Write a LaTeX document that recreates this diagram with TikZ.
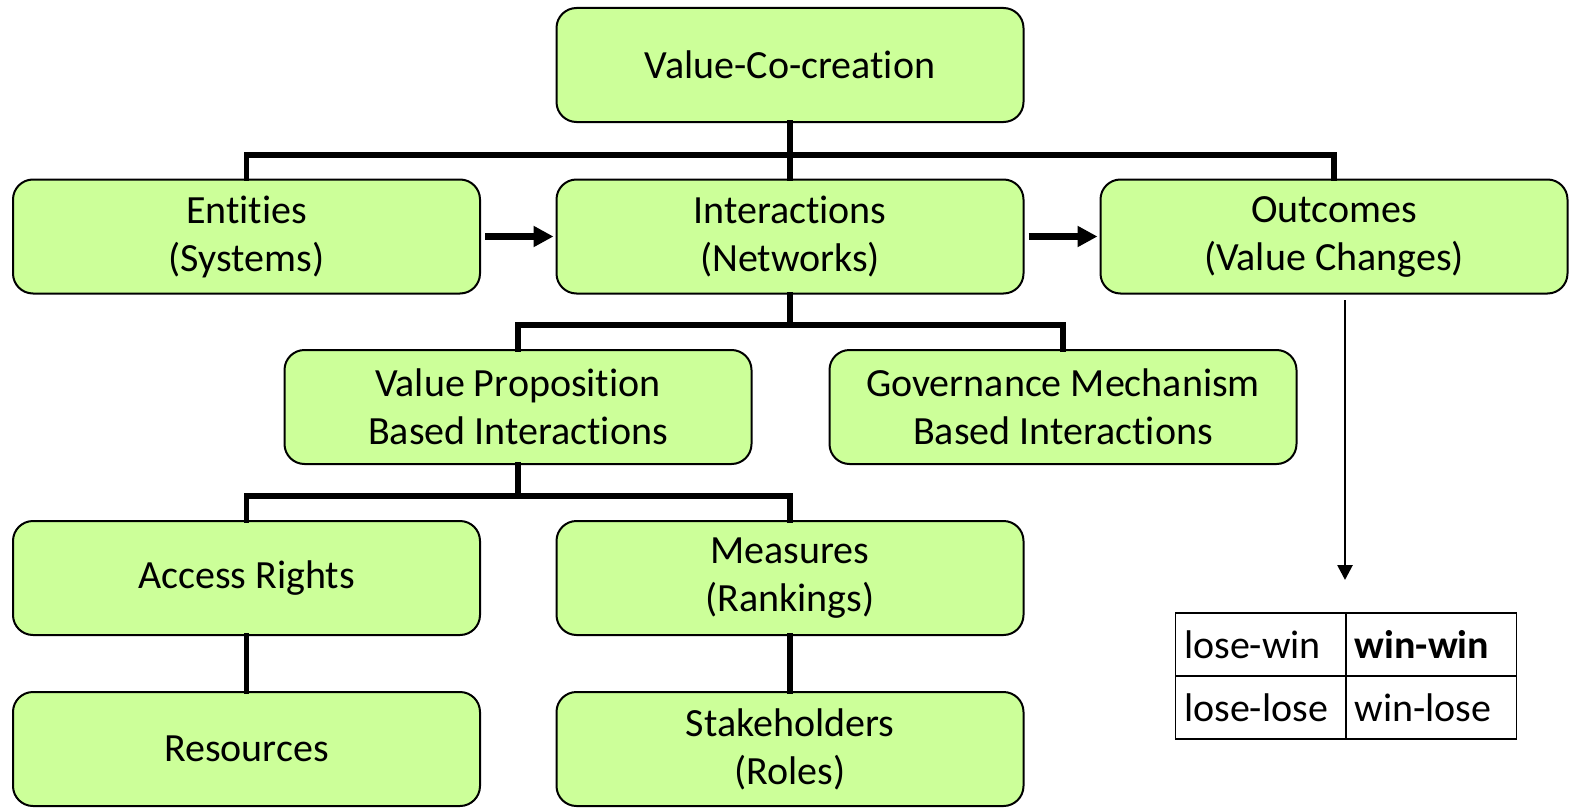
\documentclass[tikz,border=0pt]{standalone}
\usepackage{fontspec}
\setmainfont{Carlito}[RawFeature={-liga;-clig;-calt;-dlig;-hlig;-rlig}]
\usetikzlibrary{arrows.meta}
\definecolor{boxgreen}{HTML}{CCFF99}
\tikzset{
  gbox/.style={draw=black, line width=2pt, fill=boxgreen, rounded corners=20pt,
    minimum width=467pt, minimum height=114pt, inner sep=0pt, align=center,
    font=\fontsize{40}{48}\selectfont},
  tree/.style={line width=5.5pt, line cap=rect},
  fatarrow/.style={line width=6.5pt, -{Triangle[length=20pt,width=20pt]}},
  thinarrow/.style={line width=2.7pt, -{Triangle[length=15pt,width=15pt]}},
  cell/.style={draw=black, line width=1.8pt, minimum width=170.5pt, minimum height=63pt,
    inner sep=0pt, text width=153pt, align=left, font=\fontsize{40}{48}\selectfont}
}
\begin{document}
\begin{tikzpicture}[x=1pt,y=-1pt]
\useasboundingbox (0,0) rectangle (1572,808);
\node[gbox] (top) at (790,65) {Value-Co-creation};
\node[gbox] (ent) at (246.5,236.5) {Entities\\(Systems)};
\node[gbox] (int) at (790,236.5) {Interactions\\(Networks)};
\node[gbox] (out) at (1334,236.5) {Outcomes\\(Value Changes)};
\node[gbox] (vp) at (518,407) {Value Proposition\\Based Interactions};
\node[gbox] (gov) at (1063,407) {Governance Mechanism\\Based Interactions};
\node[gbox] (acc) at (246.5,578) {Access Rights};
\node[gbox] (mea) at (790,578) {Measures\\(Rankings)};
\node[gbox] (res) at (246.5,749) {Resources};
\node[gbox] (sta) at (790,749) {Stakeholders\\(Roles)};

\coordinate (j1) at (790,155);
\coordinate (j2) at (790,325);
\coordinate (j3) at (518,496);

\draw[tree] (top.south) -- (j1);
\draw[tree] (ent.north) |- (j1) -| (out.north);
\draw[tree] (j1) -- (int.north);
\draw[tree] (int.south) -- (j2);
\draw[tree] (vp.north) |- (j2) -| (gov.north);
\draw[tree] (vp.south) -- (j3);
\draw[tree] (acc.north) |- (j3) -| (mea.north);
\draw[tree] (acc.south) -- (res.north);
\draw[tree] (mea.south) -- (sta.north);

\draw[fatarrow, shorten <=4pt, shorten >=2pt] (ent.east) -- (int.west);
\draw[fatarrow, shorten <=4pt, shorten >=2pt] (int.east) -- (out.west);

\node[cell, anchor=north west] (c11) at (1174.5,612) {lose-win};
\node[cell, anchor=north west] (c12) at (1345,612) {\textbf{win-win}};
\node[cell, anchor=north west] (c21) at (1174.5,675) {lose-lose};
\node[cell, anchor=north west] (c22) at (1345,675) {win-lose};

\coordinate (astart) at (1345,300);
\coordinate (aend) at (1345,580);
\draw[thinarrow] (astart) -- (aend);
\end{tikzpicture}
\end{document}
